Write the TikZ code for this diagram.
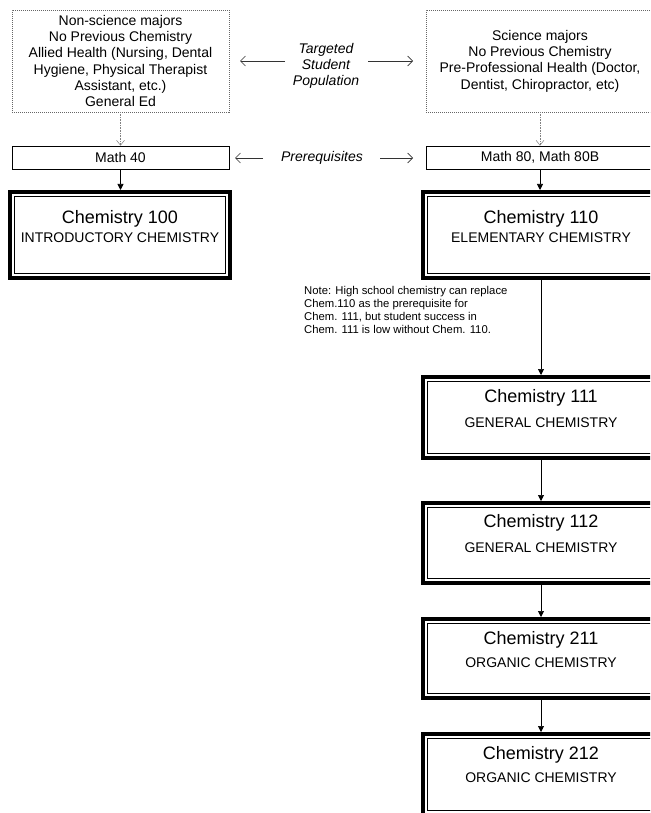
\documentclass[tikz,border=0pt]{standalone}
\usepackage{fontspec}
\setmainfont{Liberation Sans}
\usetikzlibrary{arrows.meta,calc}
\begin{document}
\begin{tikzpicture}[x=1pt,y=-1pt,
  popbox/.style={draw=black!60, dash pattern=on 1.2pt off 0.8pt, line width=0.6pt, inner sep=0pt, align=center, font=\fontsize{14}{16.3}\selectfont},
  mathbox/.style={draw=black, line width=0.7pt, minimum height=23pt, inner sep=0pt, font=\fontsize{14}{16}\selectfont},
  chembox/.style={draw=black, line width=4pt, inner sep=0pt, minimum width=220pt},
  innerline/.style={draw=black, line width=0.9pt},
  ttl/.style={font=\fontsize{18}{20}\selectfont, inner sep=0pt},
  sub/.style={font=\fontsize{14}{16}\selectfont, inner sep=0pt},
  midlbl/.style={font=\fontsize{14}{16.3}\selectfont\itshape, align=center, inner sep=0pt},
  notetext/.style={font=\fontsize{11.3}{13}\selectfont, align=left, inner sep=0pt, anchor=north west},
  solidarr/.style={draw=black, line width=0.7pt, -{Triangle[length=6pt,width=6pt]}},
  openarr/.style={draw=black!80, line width=0.6pt, -{Straight Barb[length=5pt,width=10pt]}},
  dotarr/.style={draw=black!50, line width=0.6pt, densely dotted, -{Straight Barb[length=5pt,width=8pt,line width=0.5pt]}}
]
\useasboundingbox (0,0) rectangle (650,813);
\clip (0,0) rectangle (650,813);

% top population boxes
\node[popbox, minimum width=217pt, minimum height=102pt] (popL) at (120.5,61)
  {Non-science majors\\No Previous Chemistry\\Allied Health (Nursing, Dental\\Hygiene, Physical Therapist\\Assistant, etc.)\\General Ed};
\node[popbox, minimum width=228pt, minimum height=102pt] (popR) at (540,61)
  {Science majors\\No Previous Chemistry\\Pre-Professional Health (Doctor,\\Dentist, Chiropractor, etc)};

% math boxes
\node[mathbox, minimum width=217pt] (m40) at (120.5,157.5) {Math 40};
\node[mathbox, minimum width=228pt] (m80) at (540,157.5) {Math 80, Math 80B};

% middle labels
\node[midlbl] (tsp) at (326,66) {Targeted\\Student\\Population};
\node[midlbl] (pre) at (322,158) {Prerequisites};
\coordinate (tspL1) at (285,61);
\coordinate (tspL2) at (240,61);
\coordinate (tspR1) at (368,61);
\coordinate (tspR2) at (413,61);
\coordinate (preL1) at (263,158);
\coordinate (preL2) at (235,158);
\coordinate (preR1) at (380,158);
\coordinate (preR2) at (413,158);
\draw[openarr] (tspL1) -- (tspL2);
\draw[openarr] (tspR1) -- (tspR2);
\draw[openarr] (preL1) -- (preL2);
\draw[openarr] (preR1) -- (preR2);

% chemistry boxes
\node[chembox, minimum height=86pt] (c100) at (120,235) {};
\node[chembox, minimum width=236pt, minimum height=86pt] (c110) at (541,235) {};
\node[chembox, minimum width=236pt, minimum height=81pt] (c111) at (541,417.5) {};
\node[chembox, minimum width=236pt, minimum height=80pt] (c112) at (541,543) {};
\node[chembox, minimum width=236pt, minimum height=79pt] (c211) at (541,658.5) {};
\node[chembox, minimum width=236pt, minimum height=81pt] (c212) at (541,774.5) {};
\foreach \b in {c100,c110,c111,c112,c211,c212}{
  \draw[innerline] ($(\b.north west)+(6.5,6.5)$) rectangle ($(\b.south east)+(-6.5,-6.5)$);
}

\node[ttl] (t100) at (120,219) {Chemistry 100};
\node[sub] (s100) at (120,238) {INTRODUCTORY CHEMISTRY};
\node[ttl] (t110) at (541,219) {Chemistry 110};
\node[sub] (s110) at (541,238) {ELEMENTARY CHEMISTRY};
\node[ttl] (t111) at (541,398) {Chemistry 111};
\node[sub] (s111) at (541,423) {GENERAL CHEMISTRY};
\node[ttl] (t112) at (541,523) {Chemistry 112};
\node[sub] (s112) at (541,548) {GENERAL CHEMISTRY};
\node[ttl] (t211) at (541,640) {Chemistry 211};
\node[sub] (s211) at (541,663) {ORGANIC CHEMISTRY};
\node[ttl] (t212) at (541,755) {Chemistry 212};
\node[sub] (s212) at (541,778) {ORGANIC CHEMISTRY};

% note
\node[notetext] (note) at (304,286) {Note: High school chemistry can replace\\Chem.110 as the prerequisite for\\Chem. 111, but student success in\\Chem. 111 is low without Chem. 110.};

% connectors
\draw[dotarr] (popL.south) -- (popL.south |- m40.north);
\draw[dotarr] (popR.south) -- (popR.south |- m80.north);
\draw[solidarr] (m40.south) -- (m40.south |- c100.north);
\draw[solidarr] (m80.south) -- (m80.south |- c110.north);
\draw[solidarr] (c110.south) -- (c111.north);
\draw[solidarr] (c111.south) -- (c112.north);
\draw[solidarr] (c112.south) -- (c211.north);
\draw[solidarr] (c211.south) -- (c212.north);
\end{tikzpicture}
\end{document}
